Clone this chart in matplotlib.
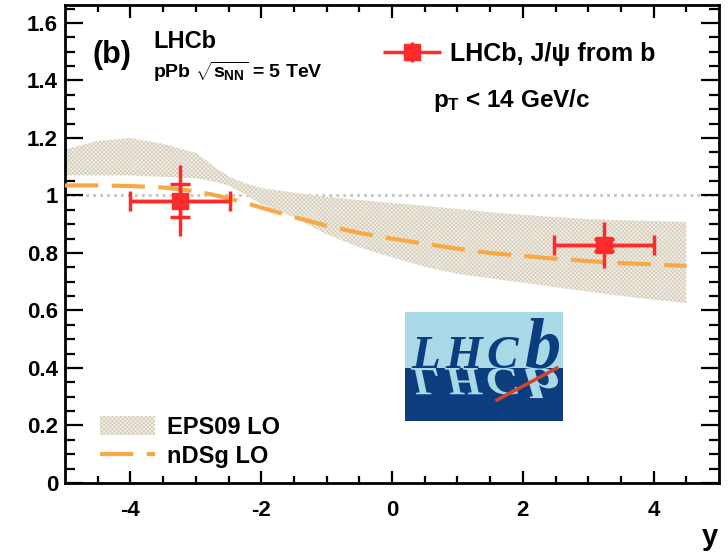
import numpy as np
import matplotlib
matplotlib.use('Agg')
import matplotlib.pyplot as plt
from matplotlib.patches import Rectangle, PathPatch
from matplotlib.textpath import TextPath
from matplotlib.font_manager import FontProperties
from matplotlib.transforms import Affine2D
from matplotlib.legend_handler import HandlerErrorbar
from matplotlib.container import ErrorbarContainer

plt.rcParams['font.family'] = ['Liberation Sans', 'DejaVu Sans']
plt.rcParams['font.weight'] = 'bold'
plt.rcParams['mathtext.fontset'] = 'custom'
plt.rcParams['mathtext.rm'] = 'Liberation Sans:bold'
plt.rcParams['mathtext.it'] = 'Liberation Sans:bold'
plt.rcParams['mathtext.bf'] = 'Liberation Sans:bold'
plt.rcParams['hatch.linewidth'] = 0.5

# EPS09 LO band and nDSg LO curve, vs rapidity y
y_grid = [-5, -4.5, -4, -3.5, -3, -2.75, -2.5, -2.25, -2, -1.5, -1, -0.5,
          0, 0.5, 1, 1.5, 2, 2.5, 3, 3.5, 4, 4.5]
eps09_hi = [1.16, 1.19, 1.20, 1.18, 1.148, 1.106, 1.066, 1.043, 1.026, 1.01,
            0.995, 0.984, 0.974, 0.964, 0.953, 0.942, 0.933, 0.925, 0.918,
            0.914, 0.911, 0.908]
eps09_lo = [1.07, 1.07, 1.07, 1.065, 1.06, 1.05, 1.035, 1.005, 0.97, 0.925,
            0.865, 0.82, 0.785, 0.752, 0.728, 0.712, 0.697, 0.681, 0.666,
            0.651, 0.638, 0.626]
ndsg = [1.035, 1.035, 1.033, 1.028, 1.015, 1.003, 0.99, 0.975, 0.958, 0.925,
        0.895, 0.87, 0.85, 0.832, 0.815, 0.80, 0.79, 0.78, 0.772, 0.765,
        0.76, 0.755]

# LHCb J/psi from b points
pt_y = [-3.24, 3.24]
pt_r = [0.982, 0.828]
pt_xlo = [0.76, 0.76]
pt_xhi = [0.76, 0.76]
pt_stat = [0.058, 0.02]
pt_tot = [0.124, 0.08]

W, H = 728, 556


def fxy(x, y):
    """pixel position -> figure fraction"""
    return x / W, 1 - y / H


fig = plt.figure(figsize=(W / 100, H / 100), dpi=100)
ax = fig.add_axes([65 / W, 1 - 483 / H, (719 - 65) / W, (483 - 5) / H])

red = '#ff2a2a'
orange = '#f8a947'

ax.axhline(1.0, color='#c4c4c4', lw=2, ls=(0, (1, 1.5)), zorder=1)
band = ax.fill_between(y_grid, eps09_lo, eps09_hi, facecolor='#f2efe8',
                       edgecolor='#d3cab5', hatch='xxxxxxxx', lw=0, zorder=2)
line, = ax.plot(y_grid, ndsg, color=orange, lw=3, ls=(0, (8, 3.2)), zorder=3)

xerr = [pt_xlo, pt_xhi]
cont = ax.errorbar(pt_y, pt_r, xerr=xerr, yerr=pt_tot, fmt='s', color=red,
                   ms=12, lw=2.5, capsize=0, zorder=5)
ax.errorbar(pt_y, pt_r, xerr=xerr, fmt='none', ecolor=red, lw=2.5,
            capsize=7, capthick=2.5, zorder=5)
ax.errorbar(pt_y, pt_r, yerr=pt_stat, fmt='none', ecolor=red, lw=2.5,
            capsize=7, capthick=2.5, zorder=5)

ax.set_xlim(-5, 5)
ax.set_ylim(0, 1.6626)
ax.set_xticks([-4, -2, 0, 2, 4])
ax.set_xticks(np.arange(-4.5, 5, 0.5), minor=True)
ax.set_yticks(np.arange(0, 1.61, 0.2))
ax.set_yticks(np.arange(0, 1.66, 0.05), minor=True)
ax.set_yticklabels(['0', '0.2', '0.4', '0.6', '0.8', '1', '1.2', '1.4', '1.6'])
ax.set_xticklabels(['-4', '-2', '0', '2', '4'])

for s in ax.spines.values():
    s.set_linewidth(2)
ax.tick_params(which='both', direction='in', top=True, right=True,
               width=1.6, labelsize=16)
ax.tick_params(axis='y', which='major', length=13, pad=5)
ax.tick_params(axis='y', which='minor', length=7)
ax.tick_params(axis='x', which='major', length=9, pad=12)
ax.tick_params(axis='x', which='minor', length=5)

fig.text(*fxy(718, 537), 'y', ha='right', va='center', fontsize=21)

fig.text(*fxy(112, 55), '(b)', ha='center', va='center', fontsize=22)
fig.text(*fxy(153, 42), 'LHCb', ha='left', va='center', fontsize=17)
fig.text(*fxy(153, 72), r'pPb $\sqrt{s_{NN}}$ = 5 TeV', ha='left',
         va='center', fontsize=14)
fig.text(*fxy(433, 100), r'$p_{T}$ < 14 GeV/c', ha='left', va='center',
         fontsize=17.5)

leg1 = ax.legend([cont], [r'LHCb, J/ψ from b'], loc='center left',
                 bbox_to_anchor=fxy(383, 54), bbox_transform=fig.transFigure,
                 frameon=False, fontsize=18, borderpad=0, borderaxespad=0,
                 handlelength=2.3, handletextpad=0.4,
                 handler_map={ErrorbarContainer:
                              HandlerErrorbar(xerr_size=1.15, yerr_size=0.4)})
ax.add_artist(leg1)
ax.legend([band, line], ['EPS09 LO', 'nDSg LO'], loc='upper left',
          bbox_to_anchor=fxy(100, 416), bbox_transform=fig.transFigure,
          frameon=False, fontsize=17, borderpad=0, borderaxespad=0,
          handlelength=2.35, handleheight=0.85, handletextpad=0.5,
          labelspacing=0.25)

# LHCb logo
lax = fig.add_axes([405 / W, 1 - 421 / H, 158 / W, 109 / H])
lax.set_xlim(0, 158)
lax.set_ylim(0, 109)
lax.axis('off')
light = '#a9d8e6'
dark = '#0c3d7f'
lax.add_patch(Rectangle((0, 53), 158, 56, color=light, lw=0))
lax.add_patch(Rectangle((0, 0), 158, 53, color=dark, lw=0))
serif = FontProperties(family='Liberation Serif', style='italic',
                       weight='bold')
letters = [('L', 6, 34, 0.85), ('H', 40, 34, 0.85), ('C', 81, 34, 0.85),
           ('b', 119, 52, 0.6)]
for ch, x0, size, flip in letters:
    lax.text(x0, 53, ch, fontproperties=serif, fontsize=size, color=dark,
             va='baseline', ha='left')
    tp = TextPath((0, 0), ch, size=size / 0.72, prop=serif)
    tr = Affine2D().scale(1, -flip).translate(x0, 53)
    lax.add_patch(PathPatch(tr.transform_path(tp), color=light, lw=0))
lax.plot([92, 152], [21, 53], color='#d2452a', lw=2.5)

fig.savefig('out.png', dpi=100)
